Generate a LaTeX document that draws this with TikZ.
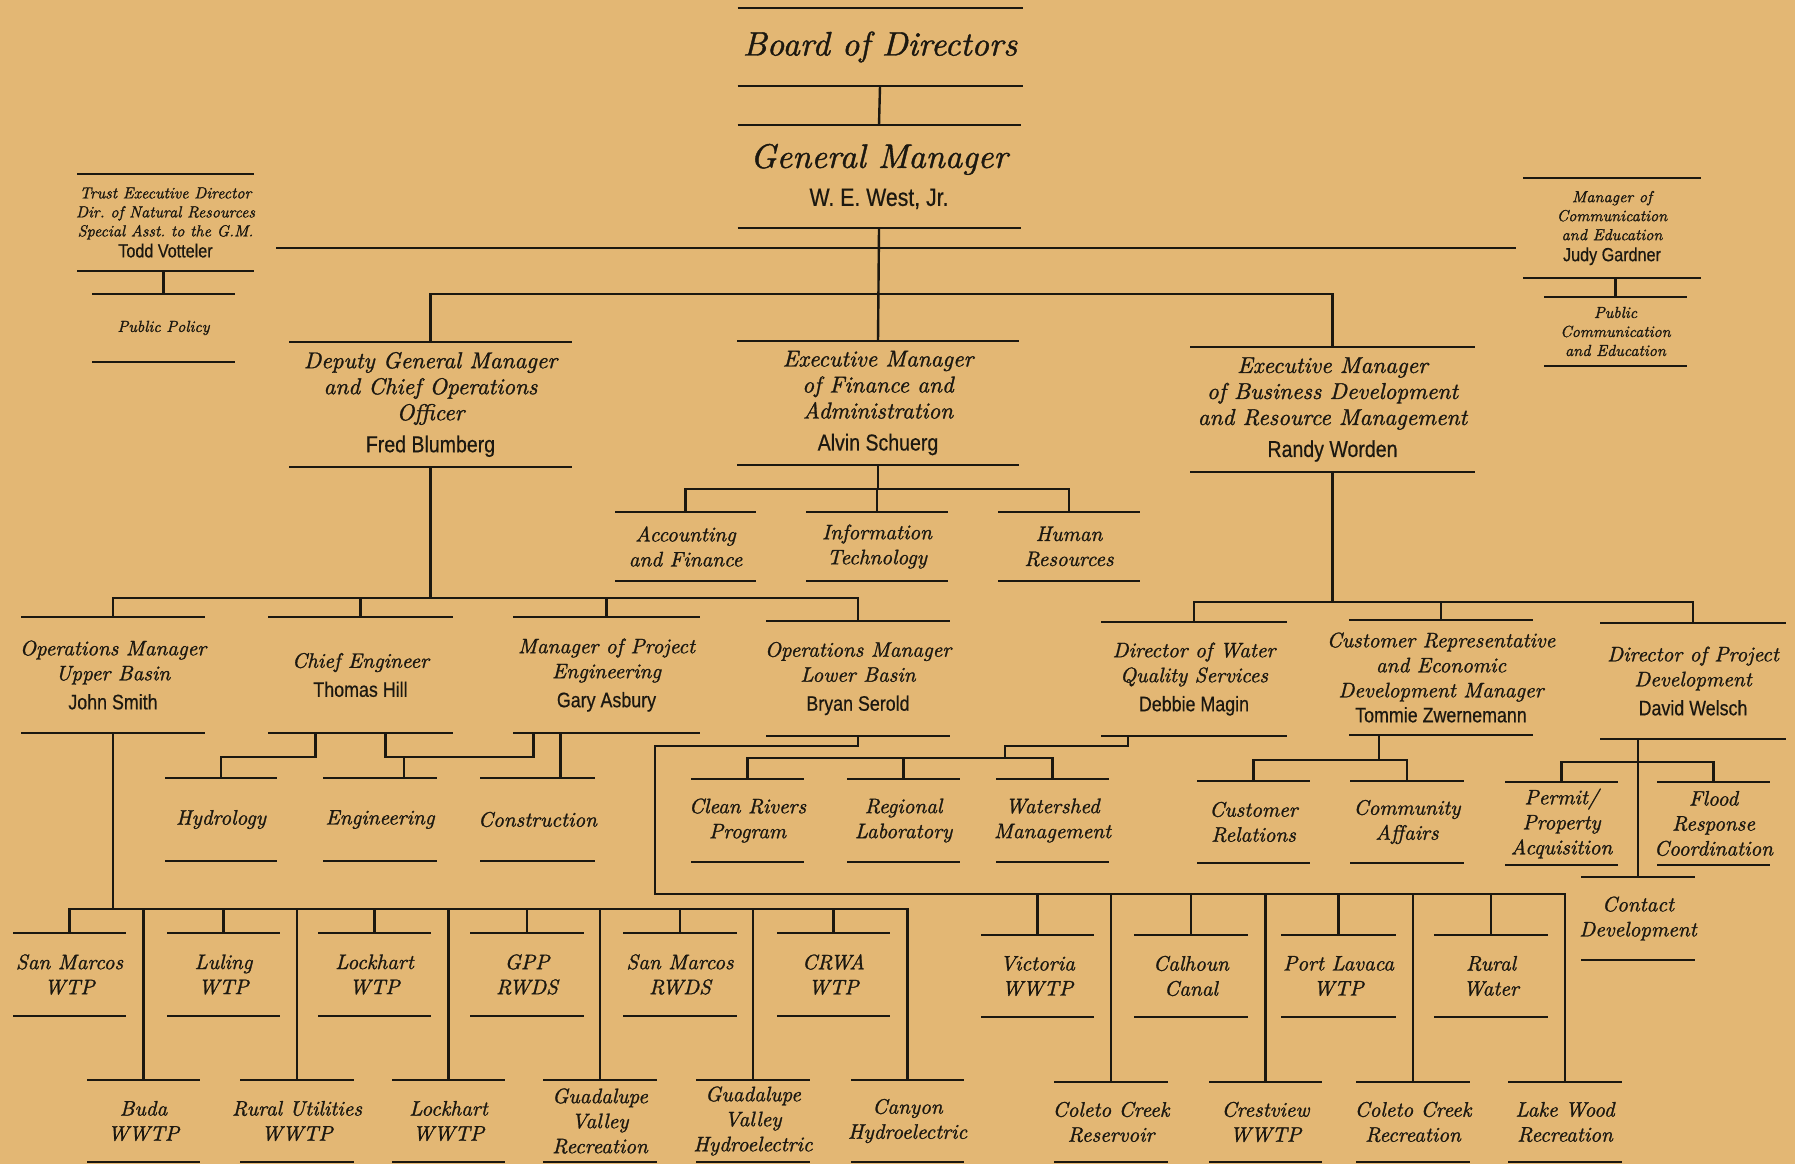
\documentclass[tikz,border=0pt]{standalone}
\usepackage{fontspec}
\newfontfamily\namefont[FakeStretch=0.85,FakeBold=0.5]{Liberation Sans}
\newfontfamily\ttlfont{lmroman10-italic.otf}[FakeBold=1.2]
\definecolor{paper}{RGB}{227,183,116}
\definecolor{ink}{RGB}{28,24,16}
\newcommand\who[2][21]{{\namefont\upshape\fontsize{#1}{#1}\selectfont #2}}
\AtBeginDocument{\frenchspacing}

\tikzset{
  rule/.style={draw=ink, line width=2.4pt},
  lbl/.style={align=center, inner sep=0pt, text=ink},
  lvbig/.style={font=\ttlfont\fontsize{34}{38}\selectfont},
  lvmid/.style={font=\ttlfont\fontsize{23}{26}\selectfont},
  lvlow/.style={font=\ttlfont\fontsize{21}{25}\selectfont},
  lvstaff/.style={font=\ttlfont\fontsize{16}{19}\selectfont},
  unit/.style n args={4}{minimum width=#1pt, minimum height=#2pt, inner sep=0pt, outer sep=0pt,
    label={[lbl,#3]center:{#4}}},
}

\begin{document}
\begin{tikzpicture}[x=1pt,y=-1pt]
    \useasboundingbox (0,0) rectangle (1795,1164);
    \fill[paper] (0,0) rectangle (1795,1164);

    % board and general manager
    \node[unit={285}{78}{lvbig}{Board of Directors}] (bod) at (880,47) {};
    \node[unit={283}{103}{lvbig}{General Manager\\\who[25]{W. E. West, Jr.}}] (gm) at (879,176.5) {};

    % staff
    \node[unit={177}{97}{lvstaff}{Trust Executive Director\\Dir. of Natural Resources\\Special Asst. to the G.M.\\[2pt]\who[19]{Todd Votteler}}] (trust) at (165.5,222.5) {};
    \node[unit={143}{68}{lvstaff}{Public Policy}] (pp) at (163.5,328) {};
    \node[unit={178}{100}{lvstaff}{Manager of\\Communication\\and Education\\[2pt]\who[19]{Judy Gardner}}] (judy) at (1612,228) {};
    \node[unit={143}{69}{lvstaff}{Public\\Communication\\and Education}] (pce) at (1615.5,331.5) {};

    % executive level
    \node[unit={283}{125}{lvmid}{Deputy General Manager\\and Chief Operations\\Officer\\[6pt]\who[23]{Fred Blumberg}}] (dep) at (430.5,404.5) {};
    \node[unit={282}{124}{lvmid}{Executive Manager\\of Finance and\\Administration\\[6pt]\who[23]{Alvin Schuerg}}] (fin) at (878,403) {};
    \node[unit={285}{125}{lvmid}{Executive Manager\\of Business Development\\and Resource Management\\[6pt]\who[23]{Randy Worden}}] (bus) at (1332.5,409.5) {};

    % finance
    \node[unit={141}{69}{lvlow}{Accounting\\and Finance}] (acc) at (685.5,546.5) {};
    \node[unit={142}{69}{lvlow}{Information\\Technology}] (it) at (877,546.5) {};
    \node[unit={142}{69}{lvlow}{Human\\Resources}] (hr) at (1069,546.5) {};

    % managers
    \node[unit={184}{116}{lvlow}{Operations Manager\\Upper Basin\\[4pt]\who{John Smith}}] (opu) at (113,675) {};
    \node[unit={185}{116}{lvlow}{Chief Engineer\\[4pt]\who{Thomas Hill}}] (ce) at (360.5,675) {};
    \node[unit={187}{116}{lvlow}{Manager of Project\\Engineering\\[4pt]\who{Gary Asbury}}] (gary) at (606.5,675) {};
    \node[unit={184}{115}{lvlow}{Operations Manager\\Lower Basin\\[4pt]\who{Bryan Serold}}] (opl) at (858,678.5) {};
    \node[unit={186}{114}{lvlow}{Director of Water\\Quality Services\\[4pt]\who{Debbie Magin}}] (wq) at (1194,679) {};
    \node[unit={184}{115}{lvlow}{Customer Representative\\and Economic\\Development Manager\\\who{Tommie Zwernemann}}] (cre) at (1441,677.5) {};
    \node[unit={186}{116}{lvlow}{Director of Project\\Development\\[4pt]\who{David Welsch}}] (dp) at (1693,681) {};

    % sections
    \node[unit={112}{83}{lvlow}{Hydrology}] (hyd) at (221,819.5) {};
    \node[unit={114}{83}{lvlow}{Engineering}] (eng) at (380,819.5) {};
    \node[unit={115}{83}{lvlow}{Construction}] (con) at (537.5,819.5) {};
    \node[unit={113}{83}{lvlow}{Clean Rivers\\Program}] (crp) at (747.5,820.5) {};
    \node[unit={113}{83}{lvlow}{Regional\\Laboratory}] (rl) at (903.5,820.5) {};
    \node[unit={113}{83}{lvlow}{Watershed\\Management}] (wm) at (1052.5,820.5) {};
    \node[unit={113}{82}{lvlow}{Customer\\Relations}] (crel) at (1253.5,822) {};
    \node[unit={114}{82}{lvlow}{Community\\Affairs}] (ca) at (1407,822) {};
    \node[unit={113}{83}{lvlow}{Permit/\\Property\\Acquisition}] (pa) at (1561.5,823.5) {};
    \node[unit={113}{83}{lvlow}{Flood\\Response\\Coordination}] (frc) at (1713.5,823.5) {};
    \node[unit={114}{83}{lvlow}{Contact\\Development}] (cd) at (1638,918.5) {};

    % facilities, upper row
    \node[unit={113}{83}{lvlow}{San Marcos\\WTP}] (smw) at (69.5,974.5) {};
    \node[unit={113}{83}{lvlow}{Luling\\WTP}] (lul) at (223.5,974.5) {};
    \node[unit={113}{83}{lvlow}{Lockhart\\WTP}] (lkw) at (374.5,974.5) {};
    \node[unit={114}{83}{lvlow}{GPP\\RWDS}] (gpp) at (527,974.5) {};
    \node[unit={114}{83}{lvlow}{San Marcos\\RWDS}] (smr) at (680,974.5) {};
    \node[unit={113}{83}{lvlow}{CRWA\\WTP}] (crwa) at (833.5,974.5) {};
    \node[unit={113}{82}{lvlow}{Victoria\\WWTP}] (vic) at (1037.5,976) {};
    \node[unit={114}{82}{lvlow}{Calhoun\\Canal}] (cal) at (1191,976) {};
    \node[unit={115}{82}{lvlow}{Port Lavaca\\WTP}] (pl) at (1338.5,976) {};
    \node[unit={114}{82}{lvlow}{Rural\\Water}] (rw) at (1491,976) {};

    % facilities, lower row
    \node[unit={113}{82}{lvlow}{Buda\\WWTP}] (buda) at (143.5,1121) {};
    \node[unit={114}{82}{lvlow}{Rural Utilities\\WWTP}] (ruw) at (297,1121) {};
    \node[unit={113}{82}{lvlow}{Lockhart\\WWTP}] (lkww) at (448.5,1121) {};
    \node[unit={114}{82}{lvlow}{Guadalupe\\Valley\\Recreation}] (gvr) at (600,1121) {};
    \node[unit={114}{82}{lvlow}{Guadalupe\\Valley\\Hydroelectric}] (gvh) at (753,1121) {};
    \node[unit={113}{82}{lvlow}{Canyon\\Hydroelectric}] (can) at (907.5,1121) {};
    \node[unit={114}{80}{lvlow}{Coleto Creek\\Reservoir}] (ccr) at (1111,1122) {};
    \node[unit={113}{80}{lvlow}{Crestview\\WWTP}] (cv) at (1265.5,1122) {};
    \node[unit={114}{80}{lvlow}{Coleto Creek\\Recreation}] (ccrec) at (1413,1122) {};
    \node[unit={114}{80}{lvlow}{Lake Wood\\Recreation}] (lw) at (1565,1122) {};

    % rules above and below every unit
    \foreach \n in {bod,gm,trust,pp,judy,pce,dep,fin,bus,acc,it,hr,opu,ce,gary,opl,wq,cre,dp,
                    hyd,eng,con,crp,rl,wm,crel,ca,pa,frc,cd,smw,lul,lkw,gpp,smr,crwa,vic,cal,pl,rw,
                    buda,ruw,lkww,gvr,gvh,can,ccr,cv,ccrec,lw}
        \draw[rule] (\n.north west) -- (\n.north east) (\n.south west) -- (\n.south east);

    % bars
    \coordinate (staffw) at (276,248);
    \coordinate (staffe) at (1516,248);
    \coordinate (finbar) at (878,489);
    \coordinate (opsbar) at (430.5,598);
    \coordinate (busbar) at (1332.5,602);
    \coordinate (wqbar) at (1005,758);
    \coordinate (crebar) at (1379,760);
    \coordinate (dpbar) at (1638,762);
    \coordinate (basin) at (655,894);
    \coordinate (upbar) at (113,909);

    % top
    \draw[rule] (bod.south) -- (gm.north);
    \draw[rule] (gm.south) -- (fin.north);
    \draw[rule] (staffw) -- (staffe);
    \draw[rule] (dep.north) -- ++(0,-48) -| (bus.north);
    \draw[rule] (pp.north) -- (pp.north |- trust.south);
    \draw[rule] (pce.north) -- (pce.north |- judy.south);

    % finance
    \draw[rule] (fin.south) -- (finbar);
    \draw[rule] (acc.north) |- (finbar) -| (hr.north);
    \draw[rule] (it.north) -- (it.north |- finbar);

    % deputy
    \draw[rule] (dep.south) -- (opsbar);
    \draw[rule] (opu.north) |- (opsbar) -| (opl.north);
    \foreach \n in {ce,gary} \draw[rule] (\n.north) -- (\n.north |- opsbar);

    % engineering
    \draw[rule] ([xshift=-45pt]ce.south) -- ++(0,24) -| (hyd.north);
    \draw[rule] ([xshift=25pt]ce.south) -- ++(0,24) -| ([xshift=-73pt]gary.south);
    \draw[rule] ([xshift=24pt]eng.north) -- ++(0,-21);
    \draw[rule] ([xshift=-46pt]gary.south) -- ([xshift=23pt]con.north);

    % upper basin
    \draw[rule] (opu.south) -- (upbar);
    \draw[rule] (smw.north) |- (upbar) -| (can.north);
    \foreach \n in {buda,lul,ruw,lkw,lkww,gpp,gvr,smr,gvh,crwa}
        \draw[rule] (\n.north) -- (\n.north |- upbar);

    % lower basin
    \draw[rule] (opl.south) -- ++(0,10) -| (basin) -| (lw.north);
    \foreach \n in {vic,ccr,cal,cv,pl,ccrec,rw}
        \draw[rule] (\n.north) -- (\n.north |- basin);

    % business development
    \draw[rule] (bus.south) -- (busbar);
    \draw[rule] (wq.north) |- (busbar) -| (dp.north);
    \draw[rule] (cre.north) -- (cre.north |- busbar);
    \draw[rule] ([xshift=-66pt]wq.south) -- ++(0,10) -| (wqbar);
    \draw[rule] (crp.north) |- (wqbar) -| (wm.north);
    \draw[rule] (rl.north) -- (rl.north |- wqbar);
    \draw[rule] ([xshift=-62pt]cre.south) -- (crebar);
    \draw[rule] (crel.north) |- (crebar) -| (ca.north);
    \draw[rule] (cd.north) -- (cd.north |- dp.south);
    \draw[rule] (pa.north) |- (dpbar) -| (frc.north);
\end{tikzpicture}
\end{document}
